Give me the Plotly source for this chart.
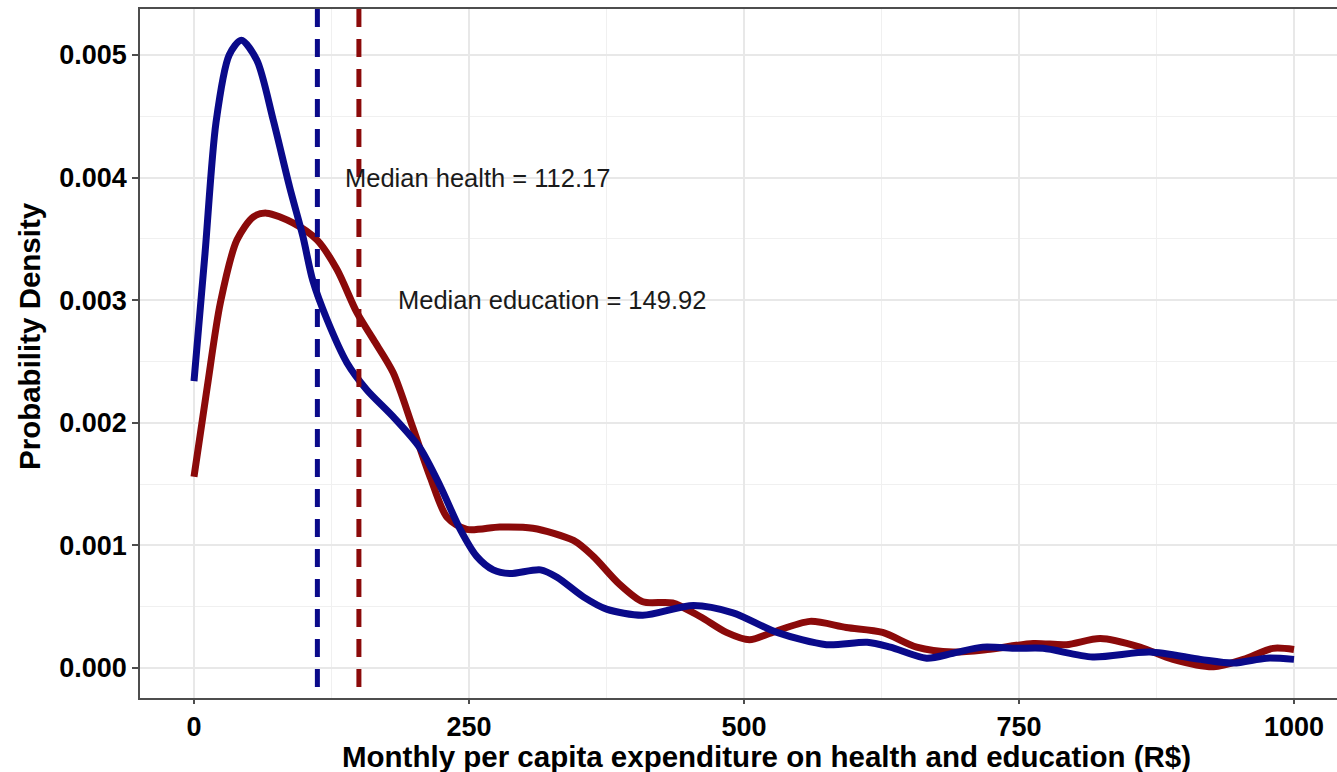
import plotly.graph_objects as go

# Kernel density estimates of monthly per-capita spending (R$)
health_x = [0, 10, 20, 32, 43, 57, 72, 87, 99, 108, 121, 139, 157, 181, 205, 224, 242,
            257, 272, 287, 315, 330, 354, 375, 408, 454, 490, 530, 575, 612, 633, 666,
            690, 717, 748, 772, 817, 869, 915, 945, 975, 1000]
health_y = [0.00234, 0.00338, 0.00445, 0.00500, 0.00512, 0.00496, 0.00447, 0.00392,
            0.00352, 0.00316, 0.00284, 0.00249, 0.00227, 0.00205, 0.00180, 0.00148,
            0.00113, 0.00091, 0.00080, 0.00077, 0.00080, 0.00074, 0.00058, 0.00048,
            0.00043, 0.00051, 0.00045, 0.00029, 0.00019, 0.00021, 0.00017, 0.00008,
            0.00012, 0.00017, 0.00016, 0.00016, 0.00009, 0.00013, 0.00007, 0.00004,
            0.00008, 0.00007]

edu_x = [0, 12, 24, 39, 54, 66, 90, 112, 130, 148, 163, 181, 199, 215, 230, 248, 278,
         308, 345, 363, 386, 408, 435, 460, 484, 505, 526, 560, 593, 626, 657, 690,
         721, 763, 793, 824, 860, 890, 927, 954, 981, 1000]
edu_y = [0.00156, 0.00229, 0.00298, 0.00349, 0.00368, 0.00371, 0.00363, 0.00349,
         0.00325, 0.00290, 0.00268, 0.00241, 0.00196, 0.00155, 0.00123, 0.00113,
         0.00115, 0.00114, 0.00104, 0.00091, 0.00069, 0.00054, 0.00053, 0.00042,
         0.00029, 0.00023, 0.00029, 0.00038, 0.00033, 0.00029, 0.00017, 0.00013,
         0.00015, 0.00020, 0.00019, 0.00024, 0.00017, 0.00007, 0.00001, 0.00007,
         0.00016, 0.00015]

median_health = 112.17
median_edu = 149.92

x_ticks = [0, 250, 500, 750, 1000]
y_ticks = [0.000, 0.001, 0.002, 0.003, 0.004, 0.005]

x_title = "Monthly per capita expenditure on health and education (R$)"
y_title = "Probability Density"

BLUE = "#0a0a8a"
RED = "#8b0a0a"
FONT = "Liberation Sans, Arial, Helvetica, sans-serif"

fig = go.Figure()

fig.add_trace(go.Scatter(x=edu_x, y=edu_y, mode="lines",
                         line=dict(color=RED, width=7, shape="spline", smoothing=0.8),
                         showlegend=False, hoverinfo="skip"))
fig.add_trace(go.Scatter(x=health_x, y=health_y, mode="lines",
                         line=dict(color=BLUE, width=7, shape="spline", smoothing=0.8),
                         showlegend=False, hoverinfo="skip"))

# median reference lines spanning the full panel height
for xm, col in [(median_health, BLUE), (median_edu, RED)]:
    fig.add_shape(type="line", xref="x", yref="y domain", x0=xm, x1=xm, y0=1, y1=0,
                  line=dict(color=col, width=5, dash="18px,12px"), layer="above")

fig.add_annotation(x=258, y=0.0040, text=f"Median health = {median_health:.2f}",
                   showarrow=False, xanchor="center", yanchor="middle",
                   font=dict(family=FONT, size=25.5, color="#1a1a1a"))
fig.add_annotation(x=325, y=0.0030, text=f"Median education = {median_edu:.2f}",
                   showarrow=False, xanchor="center", yanchor="middle",
                   font=dict(family=FONT, size=25.5, color="#1a1a1a"))

# axis titles
title_font = dict(family=FONT, size=29.5, color="#000000", weight="bold")
fig.add_annotation(xref="paper", yref="paper", x=0.5238, y=-0.0856, text=x_title,
                   showarrow=False, xanchor="center", yanchor="middle", font=title_font)
fig.add_annotation(xref="paper", yref="paper", x=-0.0919, y=0.5254, text=y_title,
                   textangle=-90, showarrow=False, xanchor="center", yanchor="middle",
                   font=title_font)

axis_common = dict(
    showline=True, linecolor="#4d4d4d", linewidth=1.5,
    ticks="outside", tickwidth=1.5, tickcolor="#4d4d4d",
    showgrid=True, gridcolor="#e8e8e8", gridwidth=1.5,
    zeroline=False,
    tickfont=dict(family=FONT, size=27, color="#000000", weight="bold"),
)

fig.update_xaxes(
    **axis_common,
    ticklen=4,
    range=[-49.09, 1039.1],
    tickvals=x_ticks, ticktext=[str(v) for v in x_ticks],
    mirror=True,
    minor=dict(dtick=125, tick0=0, showgrid=True, gridcolor="#f0f0f0", gridwidth=1, ticks=""),
)
fig.update_yaxes(
    **axis_common,
    ticklen=6,
    range=[-0.000245, 0.005375],
    tickvals=y_ticks, ticktext=[f"{v:.3f}" for v in y_ticks],
    minor=dict(dtick=0.0005, tick0=0, showgrid=True, gridcolor="#f0f0f0", gridwidth=1, ticks=""),
)

fig.update_layout(
    width=1337, height=772,
    margin=dict(l=140, r=0, t=9, b=74),
    paper_bgcolor="white", plot_bgcolor="white",
    showlegend=False,
)

fig.write_html("out.html")
